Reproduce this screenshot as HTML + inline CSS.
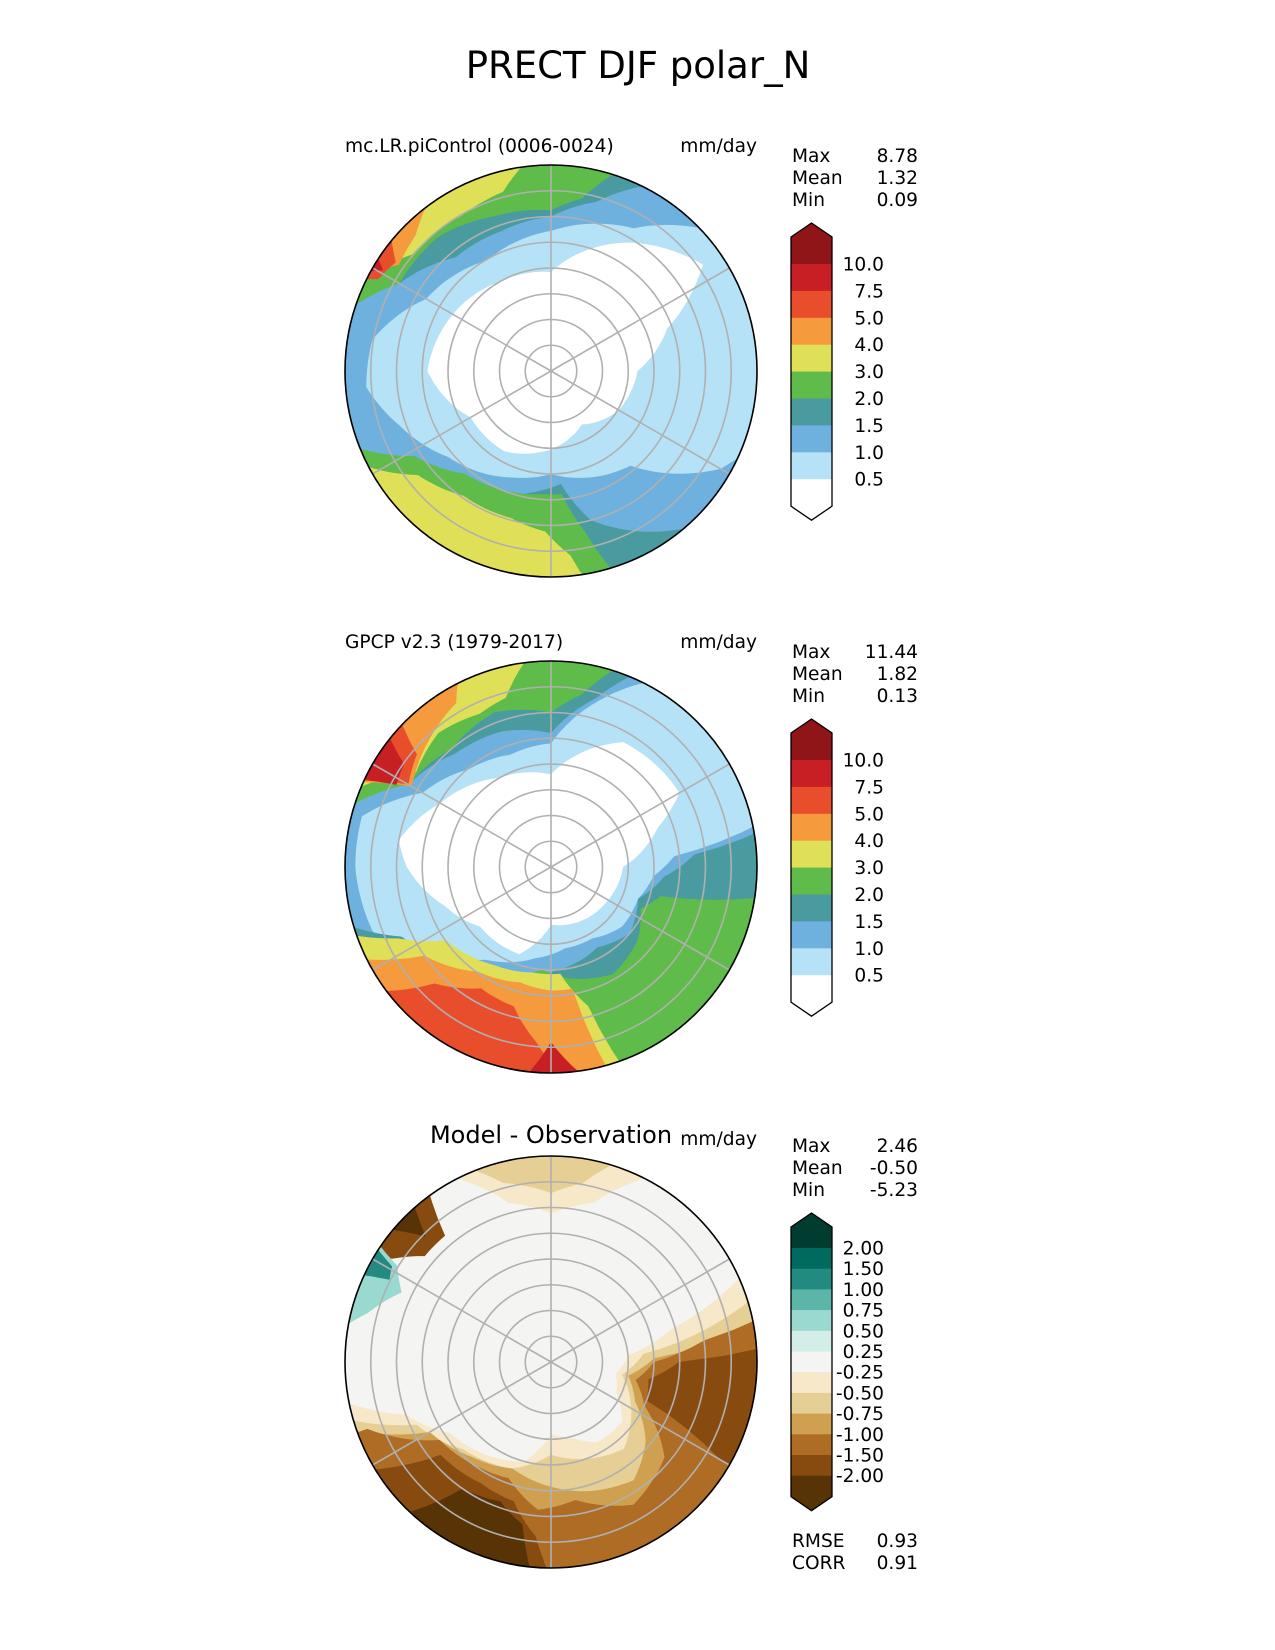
<!DOCTYPE html>
<html><head><meta charset="utf-8"><style>
html,body{margin:0;padding:0;background:#fff}
svg{display:block}
text{font-family:"DejaVu Sans","Liberation Sans",sans-serif;fill:#000}
</style></head><body>
<svg id="fig" width="1275" height="1650" viewBox="0 0 1275 1650" xmlns="http://www.w3.org/2000/svg">
<text x="638" y="78" font-size="37" text-anchor="middle">PRECT DJF polar_N</text>
</svg>
<script>
// ---- data ----
const precipLevels = ["10.0","7.5","5.0","4.0","3.0","2.0","1.5","1.0","0.5"];
const precipColors = ["#ffffff","#b6e2f7","#6fb1de","#4a9ba0","#5fbb4a","#e0e058","#f59a3d","#e84d2c","#c81f25","#8f1519"];
const diffLevels = ["2.00","1.50","1.00","0.75","0.50","0.25","-0.25","-0.50","-0.75","-1.00","-1.50","-2.00"];
const diffColors = ["#573306","#874b0f","#ae6c25","#cfa050","#e6cf94","#f6e8c8","#f4f4f2","#d3ede9","#9ad9cf","#5bb5a8","#228a80","#016a5e","#003c30"];
const panelTitles = ["mc.LR.piControl (0006-0024)","GPCP v2.3 (1979-2017)","Model - Observation"];
const statNames = ["Max","Mean","Min"];
const statsModel = ["8.78","1.32","0.09"];
const statsObs = ["11.44","1.82","0.13"];
const statsDiff = ["2.46","-0.50","-5.23"];
const metricNames = ["RMSE","CORR"];
const metricValues = ["0.93","0.91"];

// contour regions: [colorIndex, [[angleDeg, radiusFraction], ...]] (region from boundary outward)
const modelBase = 1;
const modelWhite = [[0,0.42],[20,0.6],[35,0.9],[60,0.72],[90,0.48],[120,0.5],[150,0.55],[180,0.6],[210,0.45],[240,0.45],[270,0.38],[300,0.3],[330,0.38],[360,0.42]];
const modelRegions = [
 [2,[[40,1.05],[60,0.8],[90,0.68],[120,0.62],[150,0.7],[170,0.88],[185,0.9],[200,0.78],[220,0.65],[250,0.55],[270,0.5],[290,0.55],[310,0.6],[330,0.95],[340,1.05]]],
 [3,[[60,1.05],[75,0.85],[90,0.75],[110,0.72],[130,0.72],[150,0.85],[162,1.05]]],
 [3,[[205,1.05],[222,0.8],[240,0.7],[260,0.6],[275,0.55],[285,0.75],[300,0.9],[315,1.05]]],
 [4,[[70,1.05],[80,0.85],[90,0.78],[110,0.8],[130,0.85],[150,0.85],[165,1.05]]],
 [4,[[200,1.05],[212,0.78],[230,0.65],[250,0.62],[265,0.6],[275,0.6],[282,0.8],[288,1.05]]],
 [5,[[95,1.05],[105,0.9],[120,0.87],[140,0.88],[158,1.05]]],
 [5,[[205,1.05],[218,0.82],[235,0.74],[255,0.74],[268,0.78],[276,0.9],[280,1.05]]],
 [6,[[122,1.05],[135,0.93],[145,0.9],[155,1.05]]],
 [7,[[138,1.05],[145,0.92],[152,0.95],[155,1.05]]],
 [8,[[145,1.05],[149,0.95],[153,1.05]]]
];
const obsBase = 1;
const obsWhite = [[0,0.35],[20,0.55],[30,0.72],[60,0.7],[90,0.45],[120,0.5],[150,0.62],[170,0.75],[180,0.7],[200,0.55],[220,0.45],[250,0.45],[270,0.28],[300,0.3],[330,0.32],[360,0.35]];
const obsRegions = [
 [2,[[60,1.05],[80,0.75],[90,0.6],[110,0.58],[130,0.62],[150,0.72],[165,0.95],[180,0.95],[200,0.92],[215,0.7],[235,0.55],[260,0.45],[280,0.4],[300,0.4],[320,0.45],[340,0.45],[355,0.5],[365,0.6],[372,1.05]]],
 [3,[[65,1.05],[75,0.85],[90,0.65],[110,0.7],[130,0.72],[150,0.8],[160,1.05]]],
 [3,[[195,1.05],[205,0.8],[225,0.65],[250,0.55],[275,0.5],[300,0.45],[320,0.5],[340,0.45],[355,0.55],[365,0.7],[370,1.05]]],
 [4,[[70,1.05],[80,0.85],[90,0.75],[110,0.8],[130,0.75],[150,0.8],[165,1.05]]],
 [4,[[200,1.05],[215,0.75],[240,0.6],[265,0.5],[280,0.55],[300,0.6],[320,0.55],[335,0.48],[345,0.55],[352,1.05]]],
 [5,[[95,1.05],[105,0.85],[115,0.82],[130,0.85],[145,0.8],[160,1.05]]],
 [5,[[198,1.05],[205,0.82],[215,0.62],[240,0.55],[260,0.52],[275,0.52],[285,0.7],[290,1.05]]],
 [6,[[115,1.05],[120,0.92],[135,0.85],[150,0.78],[157,1.05]]],
 [6,[[205,1.05],[215,0.75],[235,0.62],[255,0.58],[270,0.6],[280,0.6],[286,1.05]]],
 [7,[[135,1.05],[140,0.85],[150,0.8],[156,1.05]]],
 [7,[[215,1.05],[225,0.8],[240,0.68],[255,0.7],[265,0.85],[275,1.05]]],
 [8,[[140,1.05],[145,0.87],[152,0.85],[156,1.05]]],
 [8,[[262,1.05],[270,0.85],[280,1.05]]]
];
const diffBase = 6;
const diffRegions = [
 [5,[[190,1.05],[200,0.75],[215,0.6],[235,0.55],[255,0.5],[270,0.35],[285,0.38],[300,0.45],[320,0.45],[335,0.35],[350,0.32],[365,0.38],[375,0.6],[385,1.05]]],
 [5,[[60,1.05],[75,0.8],[90,0.72],[105,0.8],[120,1.05]]],
 [4,[[195,1.05],[205,0.72],[225,0.6],[250,0.55],[270,0.45],[290,0.5],[310,0.55],[330,0.45],[350,0.35],[365,0.45],[378,1.05]]],
 [4,[[70,1.05],[80,0.88],[90,0.82],[105,0.9],[115,1.05]]],
 [3,[[198,1.05],[210,0.68],[230,0.6],[250,0.55],[268,0.6],[285,0.65],[305,0.7],[320,0.6],[335,0.45],[350,0.38],[362,0.5],[372,1.05]]],
 [2,[[200,0.95],[215,0.66],[235,0.62],[250,0.6],[265,0.72],[280,0.68],[300,0.8],[320,0.72],[335,0.5],[348,0.42],[360,0.5],[368,0.75],[372,1.05]]],
 [1,[[210,1.05],[220,0.7],[240,0.68],[255,0.7],[265,0.85],[270,1.05]]],
 [1,[[330,0.95],[338,0.5],[350,0.48],[360,0.62],[364,1.05]]],
 [1,[[125,1.05],[130,0.8],[140,0.8],[147,0.92],[150,1.05]]],
 [8,[[145,1.05],[148,0.88],[155,0.8],[165,0.92],[172,1.05]]],
 [10,[[146,1.05],[149,0.9],[153,0.88],[156,1.05]]],
 [0,[[225,1.05],[235,0.75],[250,0.72],[260,0.8],[265,1.05]]],
 [0,[[130,1.05],[135,0.86],[142,1.05]]]
];
</script>
<script>
const NS="http://www.w3.org/2000/svg";
const svg=document.getElementById('fig');
const R=206, CX=551, FS=18.6;
function el(tag,attrs,parent){const e=document.createElementNS(NS,tag);for(const k in attrs)e.setAttribute(k,attrs[k]);(parent||svg).appendChild(e);return e;}
function px(cy,a,r){const t=a*Math.PI/180;return [CX+r*R*Math.cos(t), cy-r*R*Math.sin(t)];}
function interp(keys){const pts=[];for(let i=0;i<keys.length-1;i++){const [a0,r0]=keys[i],[a1,r1]=keys[i+1];const n=Math.max(1,Math.ceil(Math.abs(a1-a0)/2));for(let j=0;j<n;j++){const f=j/n;pts.push([a0+(a1-a0)*f,r0+(r1-r0)*f]);}}pts.push(keys[keys.length-1]);return pts;}
function regionPath(cy,keys){const pts=interp(keys);let d='';pts.forEach((p,i)=>{const [x,y]=px(cy,p[0],p[1]);d+=(i?'L':'M')+x.toFixed(1)+' '+y.toFixed(1);});
 const a0=keys[0][0],a1=keys[keys.length-1][0];for(let a=a1;a>=a0;a-=3){const [x,y]=px(cy,a,1.1);d+='L'+x.toFixed(1)+' '+y.toFixed(1);}const [x,y]=px(cy,a0,1.1);d+='L'+x.toFixed(1)+' '+y.toFixed(1)+'Z';return d;}
function closedPath(cy,keys){const pts=interp(keys);let d='';pts.forEach((p,i)=>{const [x,y]=px(cy,p[0],p[1]);d+=(i?'L':'M')+x.toFixed(1)+' '+y.toFixed(1);});return d+'Z';}

function panel(idx,cy,colors,base,white,regions){
 const cp=el('clipPath',{id:'clip'+idx});
 el('circle',{cx:CX,cy:cy,r:R},cp);
 const g=el('g',{'clip-path':'url(#clip'+idx+')'});
 
 
 const bg=el('circle',{cx:CX,cy:cy,r:R,fill:colors[base]},g);
 
 
 regions.forEach((rg,k)=>{const p=el('path',{d:regionPath(cy,rg[1]),fill:colors[rg[0]]},g);
  
  });
 if(white){const w=el('path',{d:closedPath(cy,white),fill:colors[0]},g);
  
  }
 const grid=el('g',{stroke:'#b0b0b0','stroke-width':1.6,fill:'none'},g);
 
 
 for(let k=1;k<=7;k++)el('circle',{cx:CX,cy:cy,r:R*k/8},grid);
 for(let a=30;a<360;a+=60){const [x,y]=px(cy,a,1);el('line',{x1:CX,y1:cy,x2:x,y2:y},grid);}
 const bd=el('circle',{cx:CX,cy:cy,r:R,fill:'none',stroke:'#000','stroke-width':1.6});
 
 
}
function texts(cy,title,stats,big){
 const off=cy-371;
 let t;
 if(big){t=el('text',{x:551,y:1143,'font-size':24,'text-anchor':'middle'});}
 else{t=el('text',{x:345,y:152+off,'font-size':FS});}
 t.textContent=title;
 
 
 const u=el('text',{x:757,y:(big?1145:152+off),'font-size':FS,'text-anchor':'end'});
 u.textContent='mm/day';
 
 
 statNames.forEach((n,i)=>{const y=(big?1152:162+off)+i*22;
  const a=el('text',{x:792,y:y,'font-size':FS});a.textContent=n;
  
  
  const b=el('text',{x:918,y:y,'font-size':FS,'text-anchor':'end'});b.textContent=stats[i];
  
  });
}
function colorbar(name,top,tip,bandH,extH,colors,labels){
 const x0=791,x1=832,n=labels.length;const g=el('g',{});
 
 
 const first=top+extH;const last=first+(n-1)*bandH;const bot=last+extH;
 el('path',{d:`M${x0} ${top}L${(x0+x1)/2} ${tip}L${x1} ${top}L${x1} ${first}L${x0} ${first}Z`,fill:colors[colors.length-1]},g);
 for(let i=0;i<n-1;i++){el('rect',{x:x0,y:first+i*bandH,width:x1-x0,height:bandH+0.5,fill:colors[colors.length-2-i]},g);}
 el('path',{d:`M${x0} ${last}L${x1} ${last}L${x1} ${bot}L${(x0+x1)/2} ${bot+(top-tip)}L${x0} ${bot}Z`,fill:colors[0]},g);
 el('path',{d:`M${x0} ${top}L${(x0+x1)/2} ${tip}L${x1} ${top}L${x1} ${bot}L${(x0+x1)/2} ${bot+(top-tip)}L${x0} ${bot}Z`,fill:'none',stroke:'#000','stroke-width':1.3},g);
 labels.forEach((l,i)=>{const t=el('text',{x:884,y:first+i*bandH+6.5,'font-size':FS,'text-anchor':'end'},g);t.textContent=l;
  
  });
}
panel(0,371,precipColors,modelBase,modelWhite,modelRegions);
panel(1,867,precipColors,obsBase,obsWhite,obsRegions);
panel(2,1362,diffColors,diffBase,null,diffRegions);
texts(371,panelTitles[0],statsModel,false);
texts(867,panelTitles[1],statsObs,false);
texts(1362,panelTitles[2],statsDiff,true);
colorbar('colorbar-model',237,223,26.9,27,precipColors,precipLevels);
colorbar('colorbar-obs',733,719,26.9,27,precipColors,precipLevels);
colorbar('colorbar-diff',1227,1213,20.7,21,diffColors,diffLevels);
metricNames.forEach((n,i)=>{const y=1547+i*22;
 const a=el('text',{x:792,y:y,'font-size':FS});a.textContent=n;
 
 
 const b=el('text',{x:918,y:y,'font-size':FS,'text-anchor':'end'});b.textContent=metricValues[i];
 
 });
</script>
</body></html>
